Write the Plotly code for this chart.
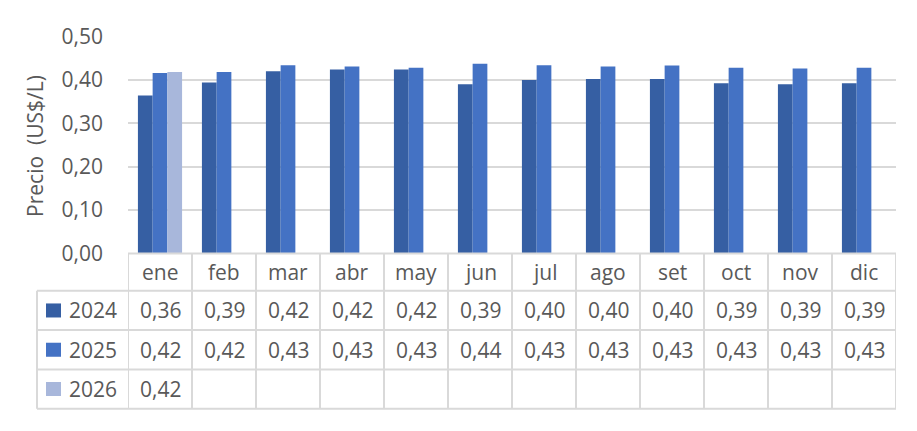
import plotly.graph_objects as go

months = ["ene", "feb", "mar", "abr", "may", "jun", "jul", "ago", "set", "oct", "nov", "dic"]
years = ["2024", "2025", "2026"]
v2024 = [0.364, 0.394, 0.420, 0.424, 0.424, 0.390, 0.400, 0.402, 0.402, 0.392, 0.390, 0.392]
v2025 = [0.416, 0.418, 0.434, 0.431, 0.428, 0.437, 0.434, 0.431, 0.433, 0.428, 0.426, 0.428]
v2026 = [0.418, None, None, None, None, None, None, None, None, None, None, None]
yticks = [0.0, 0.1, 0.2, 0.3, 0.4, 0.5]
ytick_labels = ["0,00", "0,10", "0,20", "0,30", "0,40", "0,50"]
colors = ["#365FA3", "#4472C4", "#A8B7DB"]
series = [v2024, v2025, v2026]

W, H = 917, 431
FONT = "Open Sans"
TXT = "#595959"
GRID = "#D9D9D9"
FS = 21

def px_x(x):
    return x / W

def px_y(y):
    return (H - y) / H

fig = go.Figure()
for name, vals, col in zip(years, series, colors):
    fig.add_trace(go.Bar(x=months, y=vals, name=name, marker=dict(color=col, line=dict(width=0))))

tab_top, row_lines = 255, [295, 337, 379, 421]
left_legend = 37

shapes = []
shapes.append(dict(type="line", xref="x", yref="paper", x0=-0.5, x1=11.5,
                   y0=px_y(tab_top), y1=px_y(tab_top), line=dict(color=GRID, width=2)))
for ry in row_lines:
    shapes.append(dict(type="line", xref="paper", yref="paper", x0=px_x(left_legend), x1=px_x(896),
                       y0=px_y(ry), y1=px_y(ry), line=dict(color=GRID, width=2)))
for k in range(13):
    shapes.append(dict(type="line", xref="x", yref="paper", x0=k - 0.5, x1=k - 0.5,
                       y0=px_y(tab_top), y1=px_y(row_lines[-1]), line=dict(color=GRID, width=2)))
shapes.append(dict(type="line", xref="paper", yref="paper", x0=px_x(left_legend), x1=px_x(left_legend),
                   y0=px_y(row_lines[0]), y1=px_y(row_lines[-1]), line=dict(color=GRID, width=2)))

annotations = []
for m in months:
    annotations.append(dict(x=m, xref="x", y=px_y(275), yref="paper", text=m, showarrow=False,
                            font=dict(family=FONT, size=FS, color=TXT), xanchor="center", yanchor="middle"))
row_centers = [316, 358, 400]
for r, (name, vals, col) in enumerate(zip(years, series, colors)):
    yc = row_centers[r]
    shapes.append(dict(type="rect", xref="paper", yref="paper", x0=px_x(46), x1=px_x(61),
                       y0=px_y(yc - 7.5), y1=px_y(yc + 7.5), fillcolor=col, line=dict(width=0)))
    annotations.append(dict(x=px_x(93), xref="paper", y=px_y(yc), yref="paper", text=name, showarrow=False,
                            font=dict(family=FONT, size=FS, color=TXT), xanchor="center", yanchor="middle"))
    for m, v in zip(months, vals):
        if v is None:
            continue
        annotations.append(dict(x=m, xref="x", y=px_y(yc), yref="paper",
                                text=f"{v:.2f}".replace(".", ","), showarrow=False,
                                font=dict(family=FONT, size=FS, color=TXT), xanchor="center", yanchor="middle"))

annotations.append(dict(x=px_x(35), xref="paper", y=px_y(140), yref="paper", text="Precio  (US$/L)",
                        textangle=-90, showarrow=False, font=dict(family=FONT, size=FS, color=TXT),
                        xanchor="center", yanchor="middle"))

fig.update_layout(
    width=W, height=H,
    margin=dict(l=0, r=0, t=0, b=0),
    paper_bgcolor="white", plot_bgcolor="white",
    barmode="group", bargap=0.31, bargroupgap=0,
    showlegend=False,
    shapes=shapes, annotations=annotations,
    xaxis=dict(domain=[px_x(128), px_x(896)], range=[-0.5, 11.5], showticklabels=False,
               showgrid=False, zeroline=False, showline=False, ticks=""),
    yaxis=dict(domain=[px_y(255), px_y(23)], range=[0, 0.5], tickvals=yticks, ticktext=ytick_labels,
               showgrid=True, gridcolor=GRID, gridwidth=2, zeroline=False, showline=False,
               tickfont=dict(family=FONT, size=FS, color=TXT), ticklabelstandoff=24),
)

fig.write_html("out.html", config={"displayModeBar": False},
               post_script="document.body.style.margin='0';document.body.style.overflow='hidden';")
